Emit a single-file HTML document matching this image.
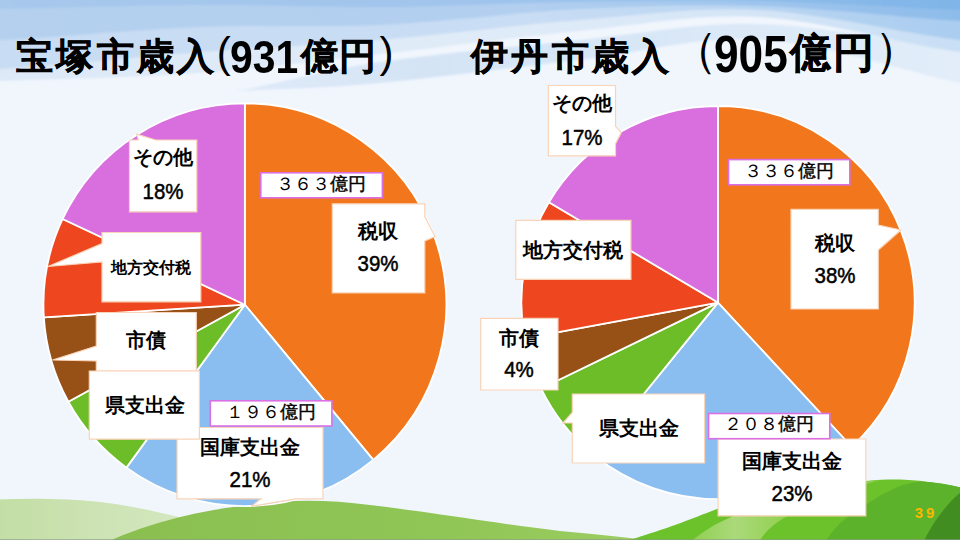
<!DOCTYPE html>
<html lang="ja">
<head>
<meta charset="utf-8">
<title>宝塚市歳入・伊丹市歳入</title>
<style>
html,body{margin:0;padding:0;}
body{width:960px;height:540px;overflow:hidden;position:relative;background:#f1f6fd;font-family:"Liberation Sans",sans-serif;color:#000;}
svg.layer{position:absolute;left:0;top:0;width:960px;height:540px;}
.t{position:absolute;white-space:nowrap;font-weight:bold;line-height:1;}
.lab{font-size:20px;transform:translate(-50%,-50%);}
.amt{font-family:"Liberation Mono",monospace;font-weight:normal;font-size:17.5px;transform:translate(-50%,-50%);}
</style>
</head>
<body>
<!-- background -->
<svg class="layer" viewBox="0 0 960 540">
<defs>
<linearGradient id="gE" gradientUnits="userSpaceOnUse" x1="240" y1="0" x2="960" y2="0"><stop offset="0" stop-color="#dfeaf8"/><stop offset="0.25" stop-color="#d5e4f5"/><stop offset="0.6" stop-color="#d9e7f7"/><stop offset="1" stop-color="#e2edf9"/></linearGradient>
<linearGradient id="gD" gradientUnits="userSpaceOnUse" x1="0" y1="0" x2="960" y2="0"><stop offset="0" stop-color="#dde9f7"/><stop offset="0.55" stop-color="#e0ebf8"/><stop offset="1" stop-color="#c9dff5"/></linearGradient>
<linearGradient id="gC" gradientUnits="userSpaceOnUse" x1="0" y1="0" x2="960" y2="0"><stop offset="0" stop-color="#c8dcf3"/><stop offset="0.55" stop-color="#c9ddf4"/><stop offset="1" stop-color="#aacdf0"/></linearGradient>
<linearGradient id="gB" gradientUnits="userSpaceOnUse" x1="0" y1="0" x2="960" y2="0"><stop offset="0" stop-color="#b4d0ee"/><stop offset="0.55" stop-color="#b2cff0"/><stop offset="1" stop-color="#8ebcea"/></linearGradient>
<linearGradient id="gA" gradientUnits="userSpaceOnUse" x1="0" y1="0" x2="960" y2="0"><stop offset="0" stop-color="#a8c8ec"/><stop offset="0.55" stop-color="#9fc4ec"/><stop offset="1" stop-color="#7fb5e8"/></linearGradient>

<filter id="b2" x="-5%" y="-5%" width="110%" height="110%"><feGaussianBlur stdDeviation="1.3"/></filter>
<filter id="b1" x="-5%" y="-5%" width="110%" height="110%"><feGaussianBlur stdDeviation="0.7"/></filter>
<linearGradient id="lh" x1="0" y1="0" x2="1" y2="0">
<stop offset="0" stop-color="#c3dea5"/><stop offset="0.25" stop-color="#c9e1ae"/><stop offset="1" stop-color="#dcebcc"/>
</linearGradient>
<linearGradient id="mh" gradientUnits="userSpaceOnUse" x1="100" y1="0" x2="680" y2="0">
<stop offset="0" stop-color="#8abf50"/><stop offset="0.6" stop-color="#90c656"/><stop offset="1" stop-color="#9fce64"/>
</linearGradient>
<linearGradient id="ls" gradientUnits="userSpaceOnUse" x1="690" y1="0" x2="790" y2="0">
<stop offset="0" stop-color="#8fd04f"/><stop offset="0.45" stop-color="#abd97a"/><stop offset="1" stop-color="#8ed04c"/>
</linearGradient>
</defs>
<rect width="960" height="540" fill="#f1f6fd"/>
<g filter="url(#b2)">
<path d="M230.0 90.0C233.3 89.8 225.0 93.2 250.0 88.5C275.0 83.8 325.0 70.1 380.0 62.0C435.0 53.9 516.7 46.3 580.0 40.0C643.3 33.7 696.7 22.3 760.0 24.0C823.3 25.7 903.3 42.3 960.0 50.0C1016.7 57.7 1076.7 66.7 1100.0 70.0L1100.0 110.0C1076.7 105.5 1016.7 94.8 960.0 83.0C903.3 71.2 823.3 43.3 760.0 39.5C696.7 35.7 643.3 52.8 580.0 60.0C516.7 67.2 435.0 77.9 380.0 83.0C325.0 88.1 275.0 89.3 250.0 90.5C225.0 91.7 233.3 90.1 230.0 90.0Z" fill="url(#gE)"/>
<path d="M-160.0 84.0C-133.3 83.5 -60.0 82.8 0.0 81.0C60.0 79.2 136.7 77.5 200.0 73.0C263.3 68.5 316.7 61.0 380.0 54.0C443.3 47.0 516.7 37.2 580.0 31.0C643.3 24.8 696.7 13.5 760.0 17.0C823.3 20.5 903.3 44.8 960.0 52.0C1016.7 59.2 1076.7 58.7 1100.0 60.0V-20H-160Z" fill="url(#gD)"/>
<path d="M-160.0 75.0C-133.3 74.0 -60.0 72.8 0.0 69.0C60.0 65.2 136.7 56.8 200.0 52.0C263.3 47.2 316.7 45.3 380.0 40.0C443.3 34.7 516.7 25.0 580.0 20.0C643.3 15.0 696.7 6.7 760.0 10.0C823.3 13.3 903.3 33.7 960.0 40.0C1016.7 46.3 1076.7 46.7 1100.0 48.0V-20H-160Z" fill="url(#gC)"/>
<path d="M-160.0 45.0C-133.3 44.2 -60.0 43.0 0.0 40.0C60.0 37.0 136.7 29.5 200.0 27.0C263.3 24.5 316.7 28.0 380.0 25.0C443.3 22.0 516.7 12.2 580.0 9.0C643.3 5.8 696.7 4.0 760.0 6.0C823.3 8.0 903.3 17.7 960.0 21.0C1016.7 24.3 1076.7 25.2 1100.0 26.0V-20H-160Z" fill="url(#gB)"/>
<path d="M-160.0 11.0C-133.3 10.7 -60.0 10.0 0.0 9.0C60.0 8.0 136.7 5.3 200.0 5.0C263.3 4.7 316.7 7.5 380.0 7.0C443.3 6.5 516.7 3.0 580.0 2.0C643.3 1.0 696.7 -0.3 760.0 1.0C823.3 2.3 903.3 8.0 960.0 10.0C1016.7 12.0 1076.7 12.5 1100.0 13.0V-20H-160Z" fill="url(#gA)"/>

</g>
<!-- hills -->
<g filter="url(#b1)">
<path d="M-5 499.5C30 498 70 498.5 100 502C140 507 180 516 230 532L260 545H-5Z" fill="url(#lh)"/>
<path d="M100 545C150 522 200 510 250 505C290 499 330 500 370 505C430 512 500 524 560 531C600 535 640 538 680 545Z" fill="url(#mh)"/>
<path d="M615 545L642 536C655 532 665 528.5 675 525C690 519.5 705 513.5 717 509C745 499.5 775 493.5 800 489C825 484.5 850 482 866 481C880 479.8 893 479.3 905 479.8C925 480.8 945 484 965 488.5V545Z" fill="#6cc22b"/>
<path d="M687 545C700 533 715 524 730 517.5C760 503 800 492 840 484L880 480C850 488 815 502 785 517.5C775 523 765 531 757 545Z" fill="url(#ls)"/>
<path d="M921 481.5C914 482.5 908 483.5 903 485C895 488 887 491.5 880 495.8C870 502 860 508 850 515C840 522.5 831 532 823 545H965V488.5C950 484.5 935 482 921 481.5Z" fill="#5cb22b"/>
<path d="M965 489C958 494 951 500.5 945 508.3C940 514.5 935.5 520.5 931.7 526.7C928.5 532 925.5 537.5 922 545H965Z" fill="#438d22"/>
</g>
<rect x="0" y="539" width="960" height="1" fill="#8a9a8a" opacity=".6"/>
</svg>

<!-- pies -->
<svg class="layer" viewBox="0 0 960 540">
<g stroke="#fff" stroke-width="1.8" stroke-linejoin="round">
<path d="M244.85 304.70L244.85 103.30A201.4 201.4 0 0 1 373.23 459.88Z" fill="#f2771c"/>
<path d="M244.85 304.70L373.23 459.88A201.4 201.4 0 0 1 126.47 467.64Z" fill="#8abdf0"/>
<path d="M244.85 304.70L126.47 467.64A201.4 201.4 0 0 1 68.36 401.73Z" fill="#6cbd27"/>
<path d="M244.85 304.70L68.36 401.73A201.4 201.4 0 0 1 43.85 317.35Z" fill="#975015"/>
<path d="M244.85 304.70L43.85 317.35A201.4 201.4 0 0 1 62.62 218.95Z" fill="#ee471f"/>
<path d="M244.85 304.70L62.62 218.95A201.4 201.4 0 0 1 244.85 103.30Z" fill="#d96fdf"/>
<path d="M717.95 302.60L717.95 106.00A196.6 196.6 0 0 1 851.63 446.76Z" fill="#f2771c"/>
<path d="M717.95 302.60L851.63 446.76A196.6 196.6 0 0 1 594.07 455.26Z" fill="#8abdf0"/>
<path d="M717.95 302.60L594.07 455.26A196.6 196.6 0 0 1 541.13 388.54Z" fill="#6cbd27"/>
<path d="M717.95 302.60L541.13 388.54A196.6 196.6 0 0 1 524.65 338.47Z" fill="#975015"/>
<path d="M717.95 302.60L524.65 338.47A196.6 196.6 0 0 1 548.92 202.20Z" fill="#ee471f"/>
<path d="M717.95 302.60L548.92 202.20A196.6 196.6 0 0 1 717.95 106.00Z" fill="#d96fdf"/>
</g>
</svg>

<!-- callouts -->
<svg class="layer" viewBox="0 0 960 540">
<g fill="#fff" stroke="#f9d3b7" stroke-width="1.2" stroke-linejoin="miter">
<!-- left pie -->
<path d="M129.5 140H138.3L136.7 134.2L155.8 140H196.8V211.8H129.5Z"/>
<path d="M102 232.5H200.8V301.8H102V262L48 266.5L102 243.6Z"/>
<path d="M96.3 312.5H196.3V371H96.3V361L52.5 360L96.3 346Z"/>
<path d="M177 427.5H323V498.8H296L251.3 506.3L261 498.8H177Z"/>
<path d="M89.3 371H199.4V439.2H89.3Z"/>
<path d="M332.3 203.8H424.8V216.5L435 236.6L424.8 241V292.9H332.3Z"/>
<!-- right pie -->
<path d="M548.3 85.5H615.5V126.3L621.3 132.5L615.5 143.8V155.8H548.3Z"/>
<path d="M515.8 220.4H630.9V279.4H515.8Z"/>
<path d="M480.7 318.3H558V390H480.7Z"/>
<path d="M572.3 394H704.6V463H572.3V423L563 423L572.3 412.3Z"/>
<path d="M718.1 439H865.8V515.8H718.1Z"/>
<path d="M791 209.3H878.3V225L901 230L878.3 250V309H791Z"/>
</g>
<g fill="#fff" stroke="#db70e5" stroke-width="1.6">
<rect x="260.8" y="172.8" width="121.6" height="25"/>
<rect x="210.3" y="400.8" width="121.6" height="25.2"/>
<rect x="728.6" y="159.6" width="121.2" height="25.2"/>
<rect x="708.6" y="413.5" width="121.2" height="25.2"/>
</g>
</svg>

<!-- text -->
<div class="t" style="left:16.2px;top:38px;font-size:37px;letter-spacing:3.3px;-webkit-text-stroke:0.5px #000;">宝塚市歳入</div>
<div class="t" style="left:216.7px;top:32px;font-size:42px;font-weight:normal;">(</div>
<div class="t" style="left:230px;top:33px;font-size:47px;transform:scaleX(0.87);transform-origin:0 0;">931</div>
<div class="t" style="left:300.7px;top:38px;font-size:37px;letter-spacing:1.6px;-webkit-text-stroke:0.5px #000;">億円</div>
<div class="t" style="left:379.5px;top:32px;font-size:42px;font-weight:normal;">)</div>
<div class="t" style="left:471.2px;top:38px;font-size:37px;letter-spacing:3.3px;-webkit-text-stroke:0.5px #000;">伊丹市歳入</div>
<div class="t" style="left:669.5px;top:25.6px;font-size:48px;font-weight:normal;">（</div>
<div class="t" style="left:714.1px;top:28.5px;font-size:51px;transform:scaleX(0.867);transform-origin:0 0;">905</div>
<div class="t" style="left:790.4px;top:33px;font-size:40.7px;letter-spacing:1.9px;-webkit-text-stroke:0.5px #000;">億円</div>
<div class="t" style="left:874px;top:25.6px;font-size:48px;font-weight:normal;">）</div>

<div class="t lab" style="left:163px;top:157px;">その他</div>
<div class="t lab" style="left:163px;top:192px;font-size:22.5px;transform:translate(-50%,-50%) scaleX(0.91);font-weight:normal;-webkit-text-stroke:0.5px #000;">18%</div>
<div class="t lab" style="left:150.6px;top:267.5px;font-size:16px;">地方交付税</div>
<div class="t lab" style="left:146.3px;top:340px;">市債</div>
<div class="t lab" style="left:144.5px;top:405px;">県支出金</div>
<div class="t lab" style="left:250px;top:447px;">国庫支出金</div>
<div class="t lab" style="left:250px;top:480px;font-size:22.5px;transform:translate(-50%,-50%) scaleX(0.91);font-weight:normal;-webkit-text-stroke:0.5px #000;">21%</div>
<div class="t lab" style="left:378px;top:231px;">税収</div>
<div class="t lab" style="left:378px;top:264.4px;font-size:22.5px;transform:translate(-50%,-50%) scaleX(0.91);font-weight:normal;-webkit-text-stroke:0.5px #000;">39%</div>
<div class="t amt" style="left:320.5px;top:185.5px;">３６３<span style="-webkit-text-stroke:0.4px #000;">億円</span></div>
<div class="t amt" style="left:271px;top:413.5px;">１９６<span style="-webkit-text-stroke:0.4px #000;">億円</span></div>
<div class="t lab" style="left:582px;top:102.5px;">その他</div>
<div class="t lab" style="left:582px;top:137.5px;font-size:22.5px;transform:translate(-50%,-50%) scaleX(0.91);font-weight:normal;-webkit-text-stroke:0.5px #000;">17%</div>
<div class="t lab" style="left:573px;top:250px;">地方交付税</div>
<div class="t lab" style="left:519.2px;top:338px;">市債</div>
<div class="t lab" style="left:519.2px;top:370.3px;font-size:22.5px;transform:translate(-50%,-50%) scaleX(0.91);font-weight:normal;-webkit-text-stroke:0.5px #000;">4%</div>
<div class="t lab" style="left:639px;top:428.4px;">県支出金</div>
<div class="t lab" style="left:791.8px;top:460.7px;">国庫支出金</div>
<div class="t lab" style="left:791.8px;top:493.9px;font-size:22.5px;transform:translate(-50%,-50%) scaleX(0.91);font-weight:normal;-webkit-text-stroke:0.5px #000;">23%</div>
<div class="t lab" style="left:835px;top:242.5px;">税収</div>
<div class="t lab" style="left:835px;top:275.7px;font-size:22.5px;transform:translate(-50%,-50%) scaleX(0.91);font-weight:normal;-webkit-text-stroke:0.5px #000;">38%</div>
<div class="t amt" style="left:789px;top:172.5px;">３３６<span style="-webkit-text-stroke:0.4px #000;">億円</span></div>
<div class="t amt" style="left:769px;top:426px;">２０８<span style="-webkit-text-stroke:0.4px #000;">億円</span></div>

<div class="t" style="left:914.7px;top:505px;font-size:15px;color:#fab700;letter-spacing:3px;">39</div>
</body>
</html>
